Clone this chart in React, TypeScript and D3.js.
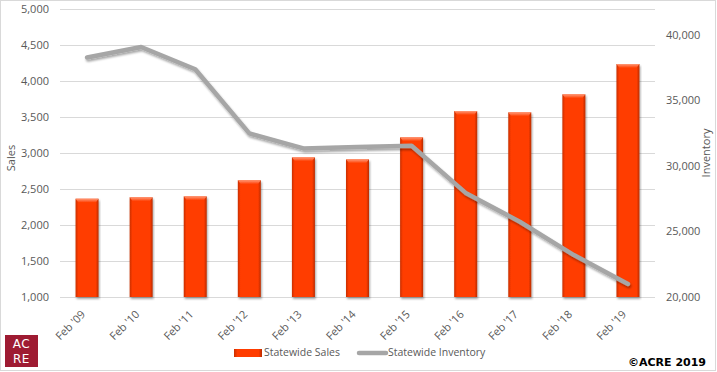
import * as d3 from 'd3';

const years = ["Feb '09", "Feb '10", "Feb '11", "Feb '12", "Feb '13", "Feb '14", "Feb '15", "Feb '16", "Feb '17", "Feb '18", "Feb '19"];
const sales = [2365, 2385, 2398, 2622, 2940, 2912, 3218, 3583, 3565, 3815, 4236];
const inventory = [38300, 39100, 37400, 32500, 31350, 31450, 31550, 27950, 25750, 23200, 21000];
const salesTicks = [1000, 1500, 2000, 2500, 3000, 3500, 4000, 4500, 5000];
const invTicks = [20000, 25000, 30000, 35000, 40000];

const W = 717;
const H = 372;
const plot = { left: 60, right: 655, top: 9, bottom: 297 };
const font = "'Open Sans', 'DejaVu Sans', sans-serif";
const textColor = '#595959';

export default function App() {
  const x = d3.scaleBand<string>()
    .domain(years)
    .range([plot.left, plot.right])
    .paddingInner(0.575)
    .paddingOuter(0.2875);

  const y = d3.scaleLinear().domain([1000, 5000]).range([plot.bottom, plot.top]);
  const y2 = d3.scaleLinear().domain([20000, 42000]).range([plot.bottom, plot.top]);

  const fmt = d3.format(',');
  const line = d3.line<number>()
    .x((_, i) => (x(years[i]) as number) + x.bandwidth() / 2)
    .y(d => y2(d));

  return (
    <div style={{ position: 'absolute', left: 0, top: 0 }}>
      <svg width={W} height={H} style={{ display: 'block', fontFamily: font }}>
        <defs>
          <linearGradient id="barGrad" x1="0" x2="1" y1="0" y2="0">
            <stop offset="0" stopColor="#c93000" />
            <stop offset="0.12" stopColor="#ff3c00" />
            <stop offset="0.88" stopColor="#ff3c00" />
            <stop offset="1" stopColor="#b82c00" />
          </linearGradient>
          <linearGradient id="capGrad" x1="0" x2="0" y1="0" y2="1">
            <stop offset="0" stopColor="#ff9a78" />
            <stop offset="1" stopColor="#ff3c00" />
          </linearGradient>
          <filter id="shadow" x="-10%" y="-10%" width="120%" height="130%">
            <feDropShadow dx="1" dy="2" stdDeviation="1.3" floodColor="#000" floodOpacity="0.35" />
          </filter>
        </defs>

        <rect x={0.5} y={0.5} width={W - 2} height={H - 2} fill="#fff" stroke="#d9d9d9" />

        {salesTicks.map(t => (
          <line key={t} x1={plot.left} x2={plot.right} y1={Math.round(y(t)) + 0.5} y2={Math.round(y(t)) + 0.5}
            stroke="#d9d9d9" strokeWidth={1} />
        ))}

        {salesTicks.map(t => (
          <text key={t} x={49} y={y(t)} dy="0.35em" textAnchor="end" fontSize={11} fill={textColor}>{fmt(t)}</text>
        ))}
        {invTicks.map(t => (
          <text key={t} x={666} y={y2(t)} dy="0.35em" textAnchor="start" fontSize={11} fill={textColor}>{fmt(t)}</text>
        ))}

        <text transform="translate(15,158) rotate(-90)" textAnchor="middle" fontSize={11} fill={textColor}>Sales</text>
        <text transform="translate(710,153) rotate(-90)" textAnchor="middle" fontSize={11} fill={textColor}>Inventory</text>

        {sales.map((v, i) => {
          const bx = x(years[i]) as number;
          const by = y(v);
          const bw = x.bandwidth();
          return (
            <g key={years[i]} filter="url(#shadow)">
              <rect x={bx} y={by} width={bw} height={plot.bottom - by} fill="url(#barGrad)" />
              <polygon points={`${bx},${by} ${bx + bw},${by} ${bx + bw - 3},${by + 4} ${bx + 3},${by + 4}`} fill="url(#capGrad)" />
            </g>
          );
        })}

        <path d={line(inventory) || ''} fill="none" stroke="#a6a6a6" strokeWidth={4.5}
          strokeLinejoin="round" strokeLinecap="round" filter="url(#shadow)" />

        {years.map(yr => {
          const cx = (x(yr) as number) + x.bandwidth() / 2;
          return (
            <text key={yr} transform={`translate(${cx - 1},${315}) rotate(-45)`} textAnchor="end"
              fontSize={11} fill={textColor}>{yr}</text>
          );
        })}

        <g>
          <rect x={234} y={349} width={28} height={8} fill="url(#barGrad)" />
          <text x={264} y={356} fontSize={10.5} fill={textColor}>Statewide Sales</text>
          <line x1={359} x2={386} y1={353} y2={353} stroke="#a6a6a6" strokeWidth={4.5} strokeLinecap="round" />
          <text x={388} y={356} fontSize={10.5} fill={textColor}>Statewide Inventory</text>
        </g>

        <rect x={5} y={335} width={33} height={32} fill="#9e1b32" />
        <g fontFamily="'DejaVu Sans', sans-serif" fontSize={12} fill="#fff" textAnchor="middle" letterSpacing={0.5}>
          <text x={21.5} y={348}>AC</text>
          <text x={21.5} y={363}>RE</text>
        </g>

        <text x={706} y={366} textAnchor="end" fontSize={11} fontWeight="bold" fill="#000"
          fontFamily="'DejaVu Sans', sans-serif">©ACRE 2019</text>
      </svg>
    </div>
  );
}
